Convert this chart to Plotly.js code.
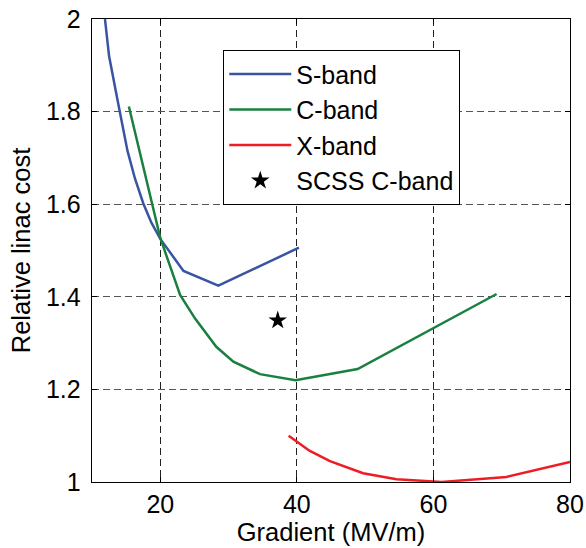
<!DOCTYPE html>
<html>
<head>
<meta charset="utf-8">
<script src="https://cdn.plot.ly/plotly-3.0.1.min.js"></script>
<style>html,body{margin:0;padding:0;background:#fff;}#chart{width:586px;height:548px;}</style>
</head>
<body>
<div id="chart"></div>
<script>
// S-band
const sX = [11.9, 12.5, 13.8, 15.2, 16.3, 17.5, 18.7, 20.0, 23.4, 28.5, 40.3];
const sY = [2.0, 1.92, 1.82, 1.715, 1.655, 1.602, 1.56, 1.525, 1.456, 1.424, 1.506];
// C-band
const cX = [15.4, 17.5, 20.0, 22.9, 25.1, 28.2, 30.7, 34.6, 39.8, 48.9, 69.25];
const cY = [1.811, 1.681, 1.527, 1.404, 1.353, 1.292, 1.26, 1.233, 1.22, 1.244, 1.406];
// X-band
const xX = [38.8, 41.9, 44.85, 49.7, 54.6, 61.2, 70.7, 80.0];
const xY = [1.100, 1.067, 1.045, 1.019, 1.006, 1.0, 1.011, 1.043];
// SCSS C-band point
const starX = [37.2];
const starY = [1.349];

const xTicks = [20, 40, 60, 80];
const yTicks = [1, 1.2, 1.4, 1.6, 1.8, 2];
const yTickText = ['1', '1.2', '1.4', '1.6', '1.8', '2'];

const FONT = 'Liberation Sans, Arial, Helvetica, sans-serif';

const traces = [
  {x: sX, y: sY, name: 'S-band', mode: 'lines', line: {color: '#3a54a4', width: 2.5}},
  {x: cX, y: cY, name: 'C-band', mode: 'lines', line: {color: '#1a8040', width: 2.5}},
  {x: xX, y: xY, name: 'X-band', mode: 'lines', line: {color: '#ee1c25', width: 2.5}},
  {x: starX, y: starY, name: 'SCSS C-band', mode: 'markers',
   marker: {symbol: 'star', size: 14, color: '#000', line: {width: 0}}}
];

const axisCommon = {
  showline: true, linecolor: '#000', linewidth: 1.3, mirror: 'ticks',
  ticks: 'inside', ticklen: 5, tickcolor: '#000', tickwidth: 1,
  showgrid: true, gridwidth: 1, griddash: '7px,4px',
  zeroline: false, tickfont: {family: FONT, size: 25, color: '#000'}
};

const layout = {
  width: 586, height: 548,
  margin: {l: 92, r: 16, t: 19, b: 66},
  paper_bgcolor: '#fff', plot_bgcolor: '#fff',
  font: {family: FONT, color: '#000'},
  showlegend: true,
  xaxis: Object.assign({}, axisCommon, {
    range: [10, 80], tickmode: 'array', tickvals: xTicks, gridcolor: '#222',
    title: {text: 'Gradient (MV/m)', font: {family: FONT, size: 25.5, color: '#000'}, standoff: 3}
  }),
  yaxis: Object.assign({}, axisCommon, {
    range: [1, 2], tickmode: 'array', tickvals: yTicks, ticktext: yTickText, gridcolor: '#555',
    ticklabelstandoff: 5,
    title: {text: 'Relative linac cost', font: {family: FONT, size: 25.5, color: '#000'}, standoff: 8}
  }),
  legend: {
    x: 0.274, y: 0.933, xanchor: 'left', yanchor: 'top',
    bgcolor: '#fff', bordercolor: '#000', borderwidth: 1.3,
    font: {family: FONT, size: 25, color: '#000'},
    itemwidth: 62, tracegroupgap: 0
  }
};

Plotly.newPlot('chart', traces, layout, {displayModeBar: false, staticPlot: true});
</script>
</body>
</html>
